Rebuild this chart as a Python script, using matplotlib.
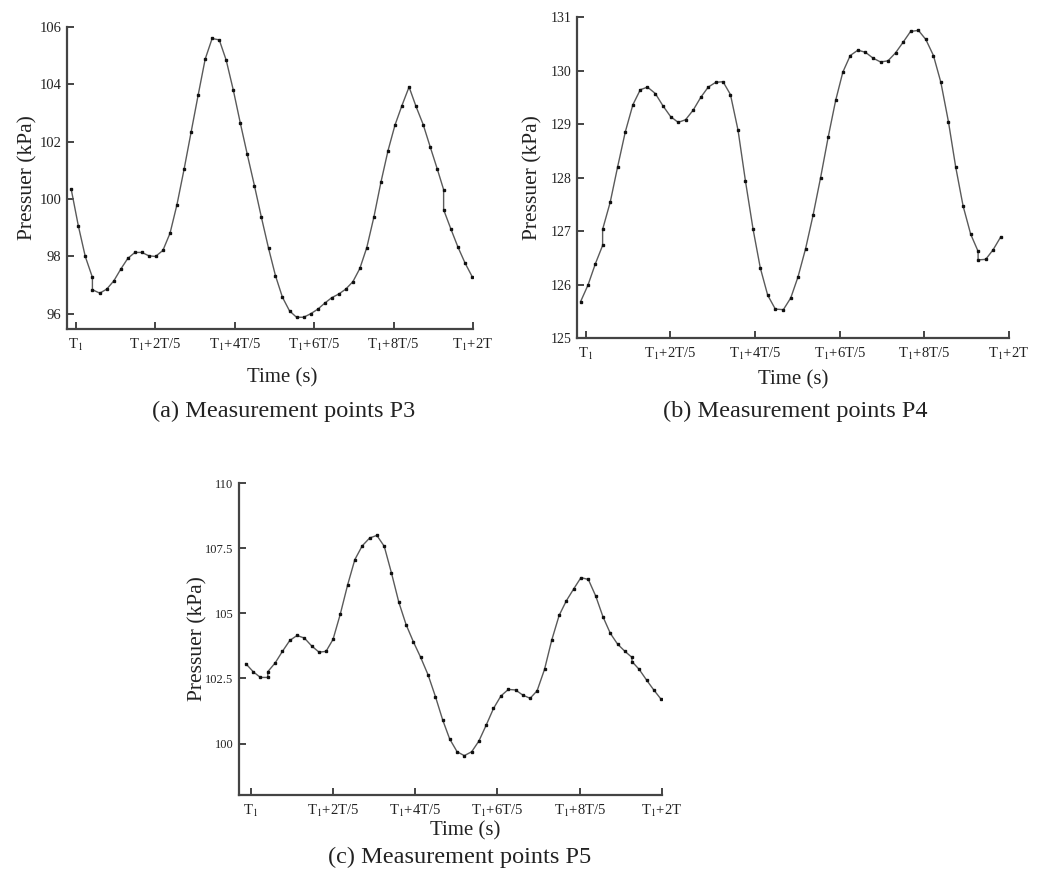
import matplotlib
matplotlib.use("Agg")
import matplotlib.pyplot as plt

plt.rcParams['font.family'] = ['Liberation Serif', 'DejaVu Serif']
plt.rcParams['mathtext.fontset'] = 'stix'

# time in units of T (T1 = 0)
x_p3 = [-0.024, 0.012, 0.047, 0.083, 0.083, 0.120, 0.155, 0.191, 0.226, 0.261,
        0.297, 0.332, 0.368, 0.401, 0.438, 0.474, 0.509, 0.545, 0.580, 0.616,
        0.651, 0.686, 0.722, 0.757, 0.793, 0.828, 0.863, 0.899, 0.934, 0.970,
        1.005, 1.040, 1.076, 1.111, 1.147, 1.182, 1.218, 1.253, 1.288, 1.324,
        1.359, 1.395, 1.430, 1.465, 1.501, 1.536, 1.572, 1.607, 1.642, 1.678,
        1.713, 1.749, 1.784, 1.820, 1.852, 1.852, 1.889, 1.924, 1.960, 1.997]
p3 = [100.35, 99.07, 98.0, 97.27, 96.84, 96.72, 96.86, 97.15, 97.56, 97.93,
      98.14, 98.14, 98.02, 98.0, 98.21, 98.81, 99.81, 101.05, 102.33, 103.64,
      104.88, 105.6, 105.55, 104.84, 103.79, 102.65, 101.56, 100.47, 99.37, 98.29,
      97.33, 96.58, 96.1, 95.88, 95.88, 96.0, 96.16, 96.37, 96.56, 96.69,
      96.86, 97.12, 97.58, 98.31, 99.38, 100.58, 101.69, 102.58, 103.26, 103.91,
      103.23, 102.6, 101.83, 101.05, 100.33, 99.63, 98.95, 98.33, 97.77, 97.28]

x_p4 = [-0.024, 0.011, 0.046, 0.080, 0.080, 0.116, 0.151, 0.187, 0.223, 0.258,
        0.292, 0.329, 0.365, 0.401, 0.437, 0.472, 0.508, 0.544, 0.579, 0.615,
        0.649, 0.684, 0.720, 0.755, 0.791, 0.825, 0.860, 0.896, 0.934, 0.969,
        1.003, 1.039, 1.074, 1.110, 1.146, 1.181, 1.215, 1.250, 1.286, 1.322,
        1.358, 1.393, 1.428, 1.464, 1.500, 1.535, 1.572, 1.607, 1.643, 1.678,
        1.714, 1.748, 1.783, 1.819, 1.854, 1.854, 1.890, 1.925, 1.961]
p4 = [125.68, 125.99, 126.39, 126.73, 127.03, 127.54, 128.20, 128.85, 129.36, 129.64,
      129.69, 129.57, 129.34, 129.14, 129.03, 129.08, 129.26, 129.50, 129.69, 129.78,
      129.79, 129.55, 128.88, 127.93, 127.03, 126.31, 125.80, 125.54, 125.53, 125.75,
      126.14, 126.67, 127.29, 128.00, 128.76, 129.44, 129.97, 130.28, 130.38, 130.34,
      130.23, 130.16, 130.18, 130.33, 130.53, 130.73, 130.75, 130.58, 130.28, 129.78,
      129.04, 128.20, 127.47, 126.94, 126.62, 126.46, 126.47, 126.65, 126.89]

x_p5 = [-0.023, 0.013, 0.048, 0.084, 0.084, 0.120, 0.155, 0.191, 0.226, 0.262,
        0.297, 0.333, 0.367, 0.401, 0.436, 0.472, 0.507, 0.543, 0.579, 0.614,
        0.650, 0.685, 0.721, 0.756, 0.792, 0.827, 0.863, 0.899, 0.934, 0.968,
        1.004, 1.039, 1.075, 1.110, 1.146, 1.181, 1.217, 1.253, 1.288, 1.324,
        1.359, 1.393, 1.429, 1.464, 1.500, 1.535, 1.571, 1.606, 1.642, 1.678,
        1.713, 1.749, 1.784, 1.820, 1.854, 1.854, 1.889, 1.925, 1.960, 1.996]
p5 = [103.07, 102.76, 102.54, 102.54, 102.76, 103.10, 103.54, 103.96, 104.15, 104.05,
      103.75, 103.51, 103.54, 104.00, 104.96, 106.09, 107.06, 107.59, 107.89, 107.99,
      107.57, 106.55, 105.42, 104.57, 103.90, 103.31, 102.64, 101.80, 100.91, 100.18,
      99.69, 99.54, 99.69, 100.10, 100.72, 101.35, 101.83, 102.08, 102.06, 101.86,
      101.74, 102.03, 102.85, 103.97, 104.92, 105.48, 105.94, 106.37, 106.30, 105.66,
      104.87, 104.23, 103.82, 103.54, 103.31, 103.15, 102.85, 102.44, 102.06, 101.70]

xticks = [0, 0.4, 0.8, 1.2, 1.6, 2.0]
xtick_labels = [r'T$_{1}$', r'T$_{1}$+2T/5', r'T$_{1}$+4T/5', r'T$_{1}$+6T/5',
                r'T$_{1}$+8T/5', r'T$_{1}$+2T']

yticks_p3 = [96, 98, 100, 102, 104, 106]
yticks_p4 = [125, 126, 127, 128, 129, 130, 131]
yticks_p5 = [100, 102.5, 105, 107.5, 110]
ytick_labels_p5 = ['100', '102.5', '105', '107.5', '110']

captions = ['(a) Measurement points P3', '(b) Measurement points P4',
            '(c) Measurement points P5']

W, H = 1042, 871
fig = plt.figure(figsize=(W / 100, H / 100), dpi=100)


def make_axes(left, top, right, bottom):
    return fig.add_axes([left / W, 1 - bottom / H, (right - left) / W, (bottom - top) / H])


def style(ax, x, y, xlim, ylim, yticks, ytl, yfs, ylab_x, xlab_pos):
    ax.plot(x, y, color='#5a5a5a', lw=1.0, marker='s', ms=1.8,
            mfc='#111111', mec='#111111')
    ax.set_xlim(*xlim)
    ax.set_ylim(*ylim)
    ax.set_xticks(xticks)
    ax.set_xticklabels(xtick_labels, fontsize=10.5)
    ax.set_yticks(yticks)
    ax.set_yticklabels(ytl, fontsize=yfs)
    for s in ['top', 'right']:
        ax.spines[s].set_visible(False)
    for s in ['left', 'bottom']:
        ax.spines[s].set_linewidth(1.6)
        ax.spines[s].set_color('#444444')
    ax.tick_params(direction='in', length=5, width=1.4, color='#444444',
                   labelcolor='#222222')
    ax.tick_params(axis='x', pad=6)
    ax.tick_params(axis='y', pad=4)
    ax.set_ylabel('Pressuer (kPa)', fontsize=15.5, color='#222222')
    ax.yaxis.set_label_coords(ylab_x, 0.5)
    ax.set_xlabel('Time (s)', fontsize=15, color='#222222')
    ax.xaxis.set_label_coords(*xlab_pos)


ax1 = make_axes(67, 27, 473, 329)
style(ax1, x_p3, p3, (-0.045, 2.0), (95.47, 106), yticks_p3,
      [str(v) for v in yticks_p3], 10.5, -0.072, (0.53, -0.13))

ax2 = make_axes(577, 17, 1009, 338)
style(ax2, x_p4, p4, (-0.041, 2.0), (125, 131), yticks_p4,
      [str(v) for v in yticks_p4], 10, -0.081, (0.5, -0.10))

ax3 = make_axes(239, 483, 662, 795)
style(ax3, x_p5, p5, (-0.056, 2.0), (98.03, 110), yticks_p5,
      ytick_labels_p5, 9, -0.075, (0.534, -0.085))

fig.text(284 / W, 1 - 411 / H, captions[0], fontsize=17.5, ha='center', va='center', color='#222222')
fig.text(795 / W, 1 - 411 / H, captions[1], fontsize=17.5, ha='center', va='center', color='#222222')
fig.text(460 / W, 1 - 857 / H, captions[2], fontsize=17.5, ha='center', va='center', color='#222222')

fig.savefig('out.png', dpi=100)
